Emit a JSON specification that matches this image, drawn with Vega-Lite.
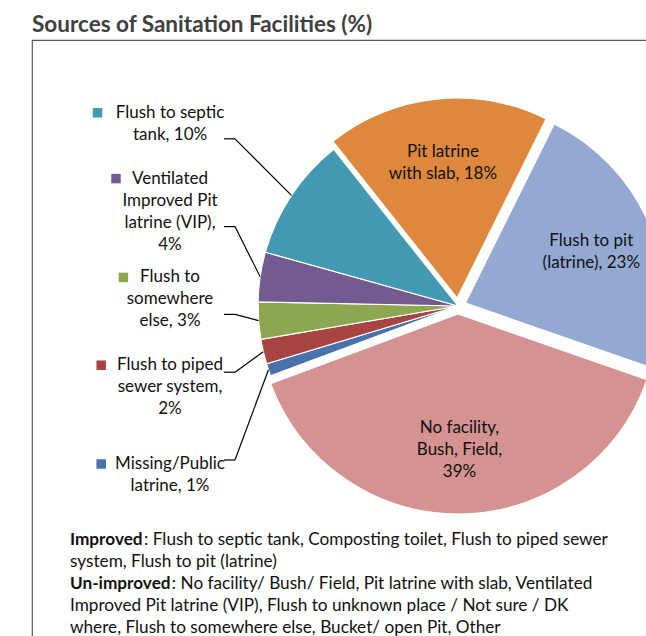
{
  "$schema": "https://vega.github.io/schema/vega-lite/v6.json",
  "autosize": {"type": "none"},
  "width": 618,
  "height": 600,
  "padding": {"left": 32, "top": 40, "right": -4, "bottom": -4},
  "background": "white",
  "title": {"text": "Sources of Sanitation Facilities (%)", "anchor": "start", "frame": "group", "font": "Lato", "fontSize": 22.5, "fontWeight": "bold", "color": "#404040", "offset": 4},
  "config": {"view": {"stroke": "#595959", "strokeWidth": 1.2}, "axis": {"disable": true}, "font": "Lato"},
  "datasets": {
    "slices": [
      {"category": "Flush to pit (latrine)", "value": 23, "label": "Flush to pit\n(latrine), 23%", "order": 1},
      {"category": "No facility, Bush, Field", "value": 39, "label": "No facility,\nBush, Field,\n39%", "order": 2},
      {"category": "Missing/Public latrine", "value": 1, "label": "Missing/Public\nlatrine, 1%", "order": 3},
      {"category": "Flush to piped sewer system", "value": 2, "label": "Flush to piped\nsewer system,\n2%", "order": 4},
      {"category": "Flush to somewhere else", "value": 3, "label": "Flush to\nsomewhere\nelse, 3%", "order": 5},
      {"category": "Ventilated Improved Pit latrine (VIP)", "value": 4, "label": "Ventilated\nImproved Pit\nlatrine (VIP),\n4%", "order": 6},
      {"category": "Flush to septic tank", "value": 10, "label": "Flush to septic\ntank, 10%", "order": 7},
      {"category": "Pit latrine with slab", "value": 18, "label": "Pit latrine\nwith slab, 18%", "order": 8}
    ],
    "notes": [
      {"line": 0, "bold": "Improved", "rest": ": Flush to septic tank, Composting toilet, Flush to piped sewer"},
      {"line": 1, "bold": "", "rest": "system, Flush to pit (latrine)"},
      {"line": 2, "bold": "Un-improved", "rest": ": No facility/ Bush/ Field, Pit latrine with slab, Ventilated"},
      {"line": 3, "bold": "", "rest": "Improved Pit latrine (VIP), Flush to unknown place / Not sure / DK"},
      {"line": 4, "bold": "", "rest": "where, Flush to somewhere else, Bucket/ open Pit, Other"}
    ]
  },
  "layer": [
    {
      "data": {"name": "slices"},
      "transform": [
        {"window": [{"op": "sum", "field": "value", "as": "cum"}], "sort": [{"field": "order", "order": "ascending"}], "frame": [null, 0]},
        {"calculate": "datum.cum - datum.value", "as": "a0"},
        {"calculate": "datum.cum", "as": "a1"},
        {"calculate": "0.4608 + 2*PI*(datum.cum - datum.value/2)/100", "as": "mid"},
        {"calculate": "datum.value >= 15 ? 0.04 : 0", "as": "explode"},
        {"calculate": "datum.explode*sin(datum.mid)", "as": "ex"},
        {"calculate": "datum.explode*cos(datum.mid)", "as": "ey"},
        {"calculate": "sin(datum.mid)", "as": "rx"},
        {"calculate": "cos(datum.mid)", "as": "ry"},
        {"calculate": "split(datum.label, '\\n')", "as": "lines"},
        {"calculate": "datum.lines[0]", "as": "first"},
        {"calculate": "(length(datum.lines) - 1)*0.055", "as": "half"},
        {"calculate": "datum.ex + 0.68*sin(datum.mid)", "as": "ix"},
        {"calculate": "datum.ey + 0.68*cos(datum.mid) + datum.half", "as": "iy"},
        {"calculate": "-1.44", "as": "lx"},
        {"calculate": "-0.845 + 0.439*(datum.order - 3)", "as": "ly"},
        {"calculate": "datum.ly + datum.half", "as": "lyf"},
        {"calculate": "datum.lx + 0.27", "as": "sx"},
        {"calculate": "datum.sx + 0.055", "as": "sx2"},
        {"calculate": "clamp(datum.ry, datum.ly - 0.075, datum.ly + 0.075)", "as": "sy"},
        {"calculate": "datum.lx - length(datum.first)*0.0185 - 0.085", "as": "kx"}
      ],
      "layer": [
        {
          "mark": {"type": "arc", "outerRadius": 200, "stroke": "white", "strokeWidth": 1.2},
          "encoding": {
            "theta": {"field": "a0", "type": "quantitative", "stack": null, "scale": {"domain": [0, 100], "range": [0.4608, 6.7440]}},
            "theta2": {"field": "a1"},
            "x": {"field": "ex", "type": "quantitative", "stack": null, "scale": {"domain": [-2.13, 0.96], "nice": false, "zero": false}},
            "y": {"field": "ey", "type": "quantitative", "stack": null, "scale": {"domain": [-1.67, 1.33], "nice": false, "zero": false}},
            "color": {
              "field": "category", "type": "nominal", "legend": null,
              "scale": {
                "domain": ["Flush to pit (latrine)", "No facility, Bush, Field", "Missing/Public latrine", "Flush to piped sewer system", "Flush to somewhere else", "Ventilated Improved Pit latrine (VIP)", "Flush to septic tank", "Pit latrine with slab"],
                "range": ["#94A9D1", "#D49290", "#4773AA", "#A84542", "#8DA750", "#735A91", "#4299B1", "#DD883D"]
              }
            }
          }
        },
        {
          "transform": [{"filter": "datum.value >= 15"}],
          "mark": {"type": "text", "lineBreak": "\n", "fontSize": 17, "font": "Lato", "align": "center", "baseline": "middle", "lineHeight": 22, "color": "#111111"},
          "encoding": {
            "x": {"field": "ix", "type": "quantitative", "scale": {"domain": [-2.13, 0.96], "nice": false, "zero": false}},
            "y": {"field": "iy", "type": "quantitative", "scale": {"domain": [-1.67, 1.33], "nice": false, "zero": false}},
            "text": {"field": "label"}
          }
        },
        {
          "transform": [{"filter": "datum.value < 15"}],
          "mark": {"type": "rule", "color": "#000000", "strokeWidth": 1.2},
          "encoding": {
            "x": {"field": "sx", "type": "quantitative", "scale": {"domain": [-2.13, 0.96], "nice": false, "zero": false}},
            "x2": {"field": "sx2"},
            "y": {"field": "sy", "type": "quantitative", "scale": {"domain": [-1.67, 1.33], "nice": false, "zero": false}},
            "y2": {"field": "sy"}
          }
        },
        {
          "transform": [{"filter": "datum.value < 15"}],
          "mark": {"type": "rule", "color": "#000000", "strokeWidth": 1.2},
          "encoding": {
            "x": {"field": "sx2", "type": "quantitative", "scale": {"domain": [-2.13, 0.96], "nice": false, "zero": false}},
            "x2": {"field": "rx"},
            "y": {"field": "sy", "type": "quantitative", "scale": {"domain": [-1.67, 1.33], "nice": false, "zero": false}},
            "y2": {"field": "ry"}
          }
        },
        {
          "transform": [{"filter": "datum.value < 15"}],
          "mark": {"type": "square", "size": 90, "filled": true, "opacity": 1},
          "encoding": {
            "x": {"field": "kx", "type": "quantitative", "scale": {"domain": [-2.13, 0.96], "nice": false, "zero": false}},
            "y": {"field": "lyf", "type": "quantitative", "scale": {"domain": [-1.67, 1.33], "nice": false, "zero": false}},
            "color": {"field": "category", "type": "nominal", "legend": null}
          }
        },
        {
          "transform": [{"filter": "datum.value < 15"}],
          "mark": {"type": "text", "lineBreak": "\n", "fontSize": 17, "font": "Lato", "align": "center", "baseline": "middle", "lineHeight": 22, "color": "#111111"},
          "encoding": {
            "x": {"field": "lx", "type": "quantitative", "scale": {"domain": [-2.13, 0.96], "nice": false, "zero": false}},
            "y": {"field": "lyf", "type": "quantitative", "scale": {"domain": [-1.67, 1.33], "nice": false, "zero": false}},
            "text": {"field": "label"}
          }
        }
      ]
    },
    {
      "data": {"name": "notes"},
      "transform": [
        {"calculate": "-1.17 - 0.11*datum.line", "as": "ny"},
        {"calculate": "-1.94", "as": "nx"},
        {"calculate": "datum.nx + length(datum.bold)*0.0463", "as": "rx"}
      ],
      "layer": [
        {
          "mark": {"type": "text", "fontSize": 17.2, "font": "Lato", "fontWeight": "bold", "align": "left", "baseline": "middle", "color": "#111111"},
          "encoding": {
            "x": {"field": "nx", "type": "quantitative", "scale": {"domain": [-2.13, 0.96], "nice": false, "zero": false}},
            "y": {"field": "ny", "type": "quantitative", "scale": {"domain": [-1.67, 1.33], "nice": false, "zero": false}},
            "text": {"field": "bold"}
          }
        },
        {
          "mark": {"type": "text", "fontSize": 17.2, "font": "Lato", "align": "left", "baseline": "middle", "color": "#111111"},
          "encoding": {
            "x": {"field": "rx", "type": "quantitative", "scale": {"domain": [-2.13, 0.96], "nice": false, "zero": false}},
            "y": {"field": "ny", "type": "quantitative", "scale": {"domain": [-1.67, 1.33], "nice": false, "zero": false}},
            "text": {"field": "rest"}
          }
        }
      ]
    }
  ]
}
